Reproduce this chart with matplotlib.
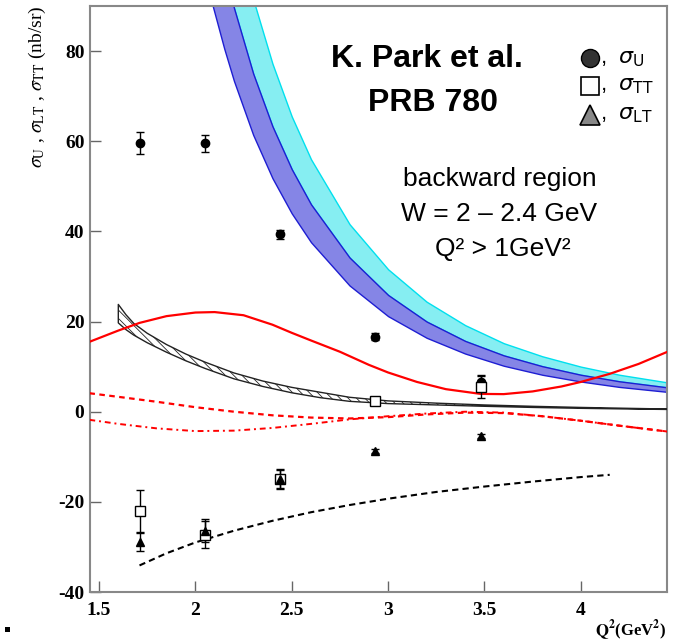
import numpy as np
import matplotlib
matplotlib.use("Agg")
import matplotlib.pyplot as plt
from matplotlib.patches import Rectangle

plt.rcParams['font.family'] = ['Liberation Serif', 'DejaVu Serif']
plt.rcParams['mathtext.fontset'] = 'stix'
plt.rcParams['hatch.linewidth'] = 0.6
plt.rcParams['axes.unicode_minus'] = False

# measured points
q2_pts = [1.71, 2.05, 2.44, 2.93, 3.48]
sig_u = [59.6, 59.5, 39.4, 16.6, 6.7]
sig_u_err = [2.5, 1.8, 1.0, 0.8, 1.5]
sig_tt = [-22.0, -27.3, -14.9, 2.4, 5.5]
sig_tt_err = [4.6, 3.0, 2.2, 0.8, 2.5]
sig_lt = [-28.8, -26.4, -14.9, -8.7, -5.4]
sig_lt_err = [2.0, 2.5, 2.0, 0.5, 0.5]

# blue / cyan model bands
bnd_x = [2.09, 2.15, 2.2, 2.3, 2.4, 2.5, 2.6, 2.8, 3.0, 3.2, 3.4, 3.6, 3.8, 4.0, 4.2, 4.45]
blue_lo = [90.0, 80.5, 73.4, 61.4, 51.8, 44.0, 37.6, 28.0, 21.2, 16.4, 12.9, 10.2, 8.2, 6.7, 5.5, 4.4]
blue_hi = [110.0, 98.3, 89.6, 75.0, 63.3, 53.8, 46.0, 34.2, 25.9, 20.0, 15.7, 12.5, 10.1, 8.2, 6.75, 5.4]
cyan_hi = [134.0, 120.0, 109.0, 91.5, 77.2, 65.5, 56.0, 41.6, 31.6, 24.4, 19.2, 15.2, 12.3, 10.0, 8.2, 6.5]

# hatched black band
hb_x = [1.60, 1.64, 1.68, 1.75, 1.85, 1.95, 2.05, 2.2, 2.35, 2.5, 2.65, 2.8, 3.0, 3.25, 3.5, 3.75, 4.0, 4.25, 4.45]
hb_hi = [23.8, 21.5, 19.6, 17.4, 14.9, 12.8, 11.0, 8.6, 6.8, 5.4, 4.3, 3.2, 2.4, 1.9, 1.5, 1.2, 0.95, 0.75, 0.6]
hb_lo = [19.7, 18.2, 17.0, 15.3, 13.2, 11.3, 9.6, 7.3, 5.6, 4.2, 3.1, 2.3, 1.8, 1.5, 1.2, 0.95, 0.75, 0.6, 0.5]

# red curves
red_x = [1.45, 1.6, 1.71, 1.85, 2.0, 2.1, 2.25, 2.4, 2.5, 2.6, 2.75, 2.9, 3.0, 3.15, 3.3, 3.48,
         3.6, 3.75, 3.9, 4.0, 4.15, 4.3, 4.45]
red_solid = [15.5, 18.0, 19.7, 21.2, 22.0, 22.1, 21.4, 19.3, 17.5, 15.8, 13.3, 10.4, 8.7, 6.6,
             5.0, 3.95, 3.9, 4.5, 5.6, 6.6, 8.4, 10.6, 13.3]
rd_x = [1.45, 1.6, 1.8, 2.0, 2.2, 2.4, 2.6, 2.8, 3.0, 3.2, 3.4, 3.6, 3.8, 4.0, 4.2, 4.45]
red_dash = [4.1, 3.3, 2.2, 1.0, 0.0, -0.8, -1.3, -1.5, -1.2, -0.6, -0.2, -0.3, -1.0, -2.0, -3.1, -4.4]
red_dashdot = [-1.8, -2.7, -3.7, -4.3, -4.2, -3.6, -2.7, -1.7, -1.0, -0.4, 0.0, -0.2, -1.0, -2.0, -3.1, -4.4]

# black dashed curve
bd_x = [1.71, 1.85, 2.0, 2.2, 2.4, 2.6, 2.8, 3.0, 3.25, 3.5, 3.75, 4.0, 4.15]
black_dash = [-34.1, -31.4, -29.0, -26.4, -24.2, -22.3, -20.7, -19.3, -17.8, -16.6, -15.5, -14.5, -14.0]

x_ticks = [1.5, 2, 2.5, 3, 3.5, 4]
x_ticklabels = ['1.5', '2', '2.5', '3', '3.5', '4']
y_ticks = [-40, -20, 0, 20, 40, 60, 80]

fig = plt.figure(figsize=(6.73, 6.44), dpi=100)
ax = fig.add_axes([0.1337, 0.0807, 0.857, 0.910])

ax.fill_between(bnd_x, blue_hi, cyan_hi, facecolor='#86eef2', edgecolor='#00e0ee', lw=1.0, zorder=1)
ax.fill_between(bnd_x, blue_lo, blue_hi, facecolor='#8585e6', edgecolor='#1e1ed2', lw=1.0, zorder=2)

ax.fill_between(hb_x, hb_lo, hb_hi, facecolor='white', edgecolor='#222222', hatch='\\\\\\\\',
                lw=1.0, zorder=3)

ax.plot(red_x, red_solid, color='red', lw=1.6, zorder=4)
ax.plot(rd_x, red_dash, color='red', lw=1.6, linestyle=(0, (2.5, 2)), zorder=4)
ax.plot(rd_x, red_dashdot, color='red', lw=1.4, linestyle=(0, (3, 2, 1, 2)), zorder=4)
ax.plot(bd_x, black_dash, color='black', lw=1.5, linestyle=(0, (3, 2)), zorder=4)

ebkw = dict(ecolor='black', elinewidth=1.0, capsize=3, capthick=1.0, linestyle='none', zorder=5)
ax.errorbar(q2_pts, sig_u, yerr=sig_u_err, fmt='o', color='black', ms=6, **ebkw)
ax.errorbar(q2_pts, sig_tt, yerr=sig_tt_err, fmt='s', mfc='white', mec='black', mew=1.0, ms=7, **ebkw)
ax.errorbar(q2_pts, sig_lt, yerr=sig_lt_err, fmt='^', color='black', ms=5.5, **ebkw)

ax.set_xlim(1.453, 4.446)
ax.set_ylim(-40, 90)
ax.set_xticks(x_ticks)
ax.set_xticklabels(x_ticklabels)
ax.set_yticks(y_ticks)
ax.tick_params(direction='in', length=8, width=1.0, color='#666666', labelsize=14, top=False, right=False)
ax.tick_params(axis='x', pad=7)
ax.tick_params(axis='y', pad=4)
for lab in ax.get_xticklabels() + ax.get_yticklabels():
    lab.set_fontweight('bold')
for sp in ax.spines.values():
    sp.set_color('#888888')
    sp.set_linewidth(1.5)

ax.set_ylabel(r'$\sigma_{\rm U}$ , $\sigma_{\rm LT}$ , $\sigma_{\rm TT}$ (nb/sr)', fontsize=14, loc='top')
ax.yaxis.set_label_coords(-0.072, 1.0)
ax.set_xlabel(r'$\mathbf{Q^2}$(GeV$\mathbf{^2}$)', fontsize=12, fontweight='bold', loc='right')
ax.xaxis.set_label_coords(1.0, -0.045)

# annotations
sans = ['Liberation Sans', 'DejaVu Sans']
ax.text(0.585, 0.909, 'K. Park et al.', transform=ax.transAxes, ha='center', va='center',
        fontsize=23, fontweight='bold', family=sans)
ax.text(0.594, 0.835, 'PRB 780', transform=ax.transAxes, ha='center', va='center',
        fontsize=23, fontweight='bold', family=sans)
ax.text(0.71, 0.705, 'backward region', transform=ax.transAxes, ha='center', va='center',
        fontsize=19, family=sans)
ax.text(0.71, 0.645, 'W = 2 \u2013 2.4 GeV', transform=ax.transAxes, ha='center', va='center',
        fontsize=19, family=sans)
ax.text(0.715, 0.585, 'Q\u00b2 > 1GeV\u00b2', transform=ax.transAxes, ha='center', va='center',
        fontsize=19, family=sans)

# legend block
leg_y = [0.911, 0.864, 0.814]
ax.plot([0.8666], [leg_y[0]], 'o', ms=13, mfc='#333333', mec='black', transform=ax.transAxes)
ax.plot([0.8666], [leg_y[1]], 's', ms=13, mfc='white', mec='black', mew=1.2, transform=ax.transAxes)
ax.plot([0.8666], [leg_y[2]], '^', ms=14, mfc='#888888', mec='black', mew=1.2, transform=ax.transAxes)
leg_txt = [r',  $\sigma_{\rm U}$', r',  $\sigma_{\rm TT}$', r',  $\sigma_{\rm LT}$']
for yy, tt in zip(leg_y, leg_txt):
    t = ax.text(0.885, yy, tt, transform=ax.transAxes, ha='left', va='center', fontsize=16, family=sans)
    t.set_math_fontfamily('dejavusans')

fig.patches.append(Rectangle((5 / 673, 1 - 632 / 644), 5 / 673, 5 / 644, transform=fig.transFigure,
                             facecolor='black', edgecolor='none'))

fig.savefig('out.png', dpi=100)
